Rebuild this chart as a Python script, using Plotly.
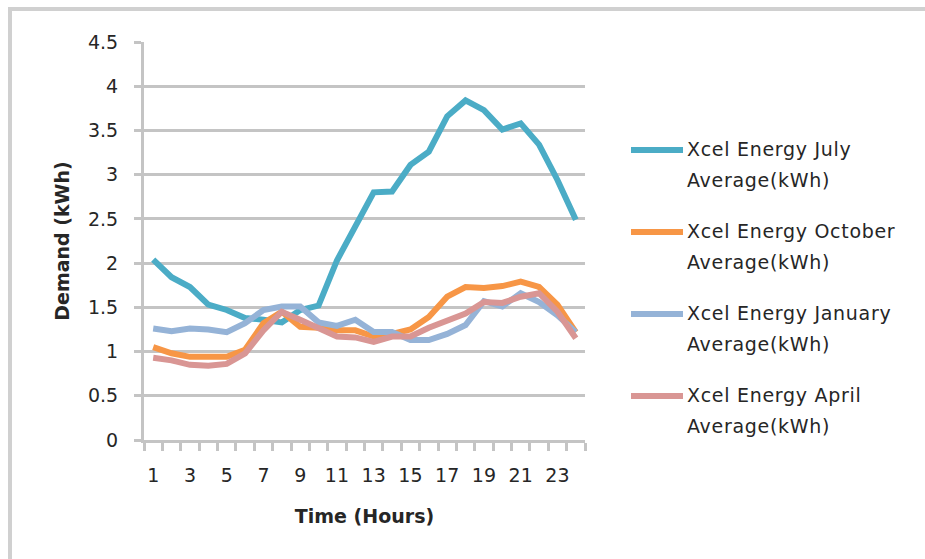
import plotly.graph_objects as go

# Hour of day (1..24)
hours = list(range(1, 25))

july = [2.04, 1.84, 1.73, 1.53, 1.47, 1.38, 1.36, 1.33, 1.47, 1.52,
        2.03, 2.41, 2.80, 2.81, 3.11, 3.26, 3.66, 3.84, 3.73, 3.51,
        3.58, 3.34, 2.94, 2.49]
october = [1.05, 0.98, 0.94, 0.94, 0.94, 1.02, 1.32, 1.45, 1.28, 1.27,
           1.24, 1.24, 1.17, 1.20, 1.25, 1.39, 1.62, 1.73, 1.72, 1.74,
           1.79, 1.73, 1.53, 1.22]
january = [1.26, 1.23, 1.26, 1.25, 1.22, 1.32, 1.47, 1.51, 1.51, 1.33,
           1.29, 1.36, 1.22, 1.22, 1.13, 1.13, 1.20, 1.30, 1.57, 1.51,
           1.66, 1.56, 1.41, 1.22]
april = [0.93, 0.90, 0.85, 0.84, 0.86, 0.98, 1.24, 1.45, 1.36, 1.27,
         1.17, 1.16, 1.11, 1.17, 1.17, 1.27, 1.35, 1.43, 1.56, 1.55,
         1.62, 1.66, 1.45, 1.15]

series_names = ["Xcel Energy July", "Xcel Energy October",
                "Xcel Energy January", "Xcel Energy April"]
series_values = [july, october, january, april]
series_colors = ["#4BACC6", "#F79646", "#95B3D7", "#D99694"]

x_ticks = list(range(1, 25, 2))
y_ticks = [0, 0.5, 1, 1.5, 2, 2.5, 3, 3.5, 4, 4.5]
y_tick_text = ["0", "0.5", "1", "1.5", "2", "2.5", "3", "3.5", "4", "4.5"]

FONT = "'DejaVu Sans', sans-serif"
TXT = "#262626"
GRID = "#C4C4C4"
FS = 19

# plot area in pixels
L, R, T, B = 144, 585, 42, 440
W, H = 925, 559


def px_x(p):
    return (p - L) / (R - L)


def px_y(p):
    return (B - p) / (B - T)


def spaced(s):
    return '<span style="letter-spacing:0.7px">' + s + '</span>'


fig = go.Figure()
for name, vals, col in zip(series_names, series_values, series_colors):
    fig.add_trace(go.Scatter(
        x=hours, y=vals, mode="lines", name=name,
        line=dict(color=col, width=6), showlegend=False,
    ))

shapes = []
annotations = []

# legend drawn as line swatches with two-line labels
leg_top = 150
leg_step = 82
for i, (name, col) in enumerate(zip(series_names, series_colors)):
    yc = leg_top + i * leg_step
    shapes.append(dict(type="line", xref="paper", yref="paper",
                       x0=px_x(631), x1=px_x(683), y0=px_y(yc), y1=px_y(yc),
                       line=dict(color=col, width=6)))
    annotations.append(dict(xref="paper", yref="paper",
                            x=px_x(685), y=px_y(yc - 1),
                            xanchor="left", yanchor="middle",
                            text=spaced(name), showarrow=False,
                            font=dict(family=FONT, size=FS, color=TXT)))
    annotations.append(dict(xref="paper", yref="paper",
                            x=px_x(685), y=px_y(yc + 30),
                            xanchor="left", yanchor="middle",
                            text=spaced("Average(kWh)"), showarrow=False,
                            font=dict(family=FONT, size=FS, color=TXT)))

# chart frame
shapes.append(dict(type="line", xref="paper", yref="paper",
                   x0=px_x(8), x1=px_x(W + 5), y0=px_y(9), y1=px_y(9),
                   line=dict(color="#D0D0D0", width=4)))
shapes.append(dict(type="line", xref="paper", yref="paper",
                   x0=px_x(10), x1=px_x(10), y0=px_y(7), y1=px_y(H + 5),
                   line=dict(color="#D0D0D0", width=4)))

fig.update_layout(
    width=W, height=H,
    margin=dict(l=L, r=W - R, t=T, b=H - B),
    paper_bgcolor="white", plot_bgcolor="white",
    font=dict(family=FONT, size=FS, color=TXT),
    shapes=shapes, annotations=annotations,
    xaxis=dict(
        range=[0.5, 24.5], tickmode="array", tickvals=x_ticks,
        ticktext=[str(v) for v in x_ticks], ticks="", ticklabelstandoff=16,
        showgrid=False, zeroline=False,
        showline=True, linecolor=GRID, linewidth=3,
        minor=dict(tickmode="linear", tick0=0.5, dtick=1, ticks="outside",
                   ticklen=8, tickwidth=3, tickcolor=GRID, showgrid=False),
        title=dict(text="<b>Time (Hours)</b>", standoff=25,
                   font=dict(family=FONT, size=FS, color=TXT)),
        tickfont=dict(family=FONT, size=FS, color=TXT),
        fixedrange=True,
    ),
    yaxis=dict(
        range=[0, 4.5], tickmode="array", tickvals=y_ticks,
        ticktext=y_tick_text,
        ticks="outside", ticklen=7, tickwidth=3, tickcolor=GRID,
        ticklabelstandoff=12,
        showgrid=True, gridcolor=GRID, gridwidth=3,
        zeroline=False, showline=True, linecolor=GRID, linewidth=3,
        title=dict(text="<b>Demand (kWh)</b>", standoff=14,
                   font=dict(family=FONT, size=FS, color=TXT)),
        tickfont=dict(family=FONT, size=FS, color=TXT),
        fixedrange=True,
    ),
)

fig.write_html("out.html")
